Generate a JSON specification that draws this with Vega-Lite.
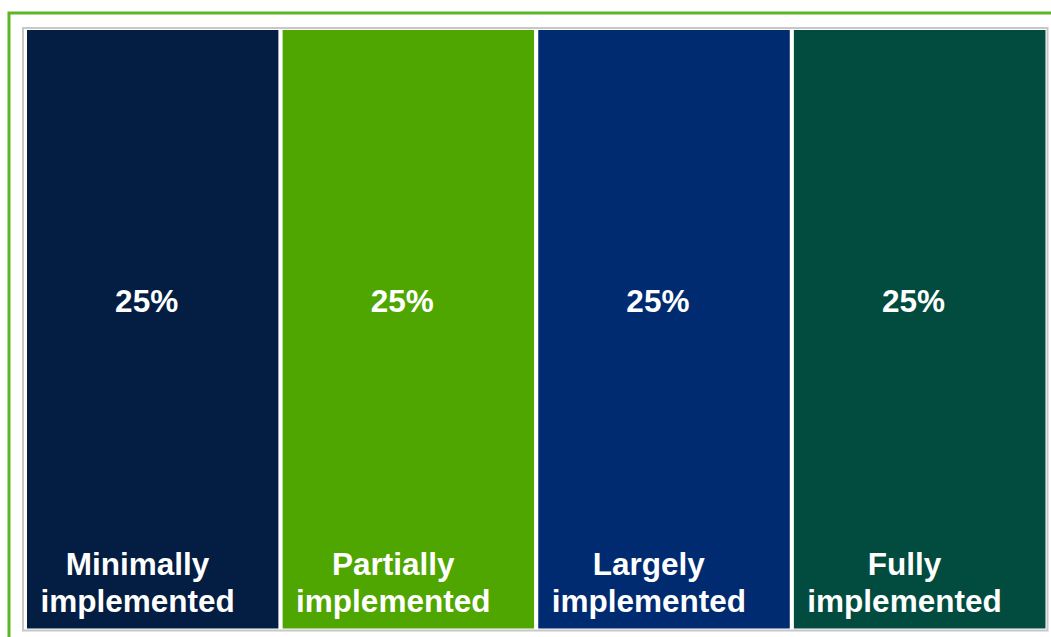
{
  "$schema": "https://vega.github.io/schema/vega-lite/v6.json",
  "width": 1024.5,
  "height": 602.5,
  "autosize": {"type": "none"},
  "padding": {"left": 23, "top": 28, "right": 3.5, "bottom": 6},
  "background": "white",
  "config": {"view": {"stroke": null}},
  "data": {
    "values": [
      {"category": "Minimally implemented", "share": 0.25, "order": 1, "label": ["Minimally", "implemented"]},
      {"category": "Partially implemented", "share": 0.25, "order": 2, "label": ["Partially", "implemented"]},
      {"category": "Largely implemented", "share": 0.25, "order": 3, "label": ["Largely", "implemented"]},
      {"category": "Fully implemented", "share": 0.25, "order": 4, "label": ["Fully", "implemented"]}
    ]
  },
  "layer": [
    {
      "data": {"values": [{"frame": "outer"}]},
      "mark": {"type": "rect", "filled": false, "stroke": "#5fb526", "strokeWidth": 3},
      "encoding": {
        "x": {"datum": -0.01565, "type": "quantitative", "scale": {"domain": [-0.001956, 1], "nice": false, "zero": false}, "axis": null},
        "x2": {"datum": 1.06},
        "y": {"datum": 102.49, "type": "quantitative", "scale": {"domain": [0, 100], "nice": false, "zero": false}, "axis": null},
        "y2": {"datum": -5}
      }
    },
    {
      "transform": [{"stack": "share", "groupby": [], "sort": [{"field": "order"}], "as": ["x0", "x1"]}],
      "mark": {"type": "bar", "stroke": "white", "strokeWidth": 4},
      "encoding": {
        "x": {"field": "x0", "type": "quantitative", "scale": {"domain": [-0.001956, 1], "nice": false, "zero": false}, "axis": null},
        "x2": {"field": "x1"},
        "y": {"datum": 0, "type": "quantitative", "scale": {"domain": [0, 100], "nice": false, "zero": false}, "axis": null},
        "y2": {"datum": 100},
        "color": {
          "field": "category",
          "type": "nominal",
          "scale": {
            "domain": ["Minimally implemented", "Partially implemented", "Largely implemented", "Fully implemented"],
            "range": ["#031e42", "#4fa600", "#002b70", "#014c3e"]
          },
          "legend": null
        }
      }
    },
    {
      "data": {"values": [{"frame": "inner"}]},
      "mark": {"type": "rect", "filled": false, "stroke": "#c8c8c8", "strokeWidth": 2},
      "encoding": {
        "x": {"datum": -0.001956, "type": "quantitative", "scale": {"domain": [-0.001956, 1], "nice": false, "zero": false}, "axis": null},
        "x2": {"datum": 1},
        "y": {"datum": 0, "type": "quantitative", "scale": {"domain": [0, 100], "nice": false, "zero": false}, "axis": null},
        "y2": {"datum": 100}
      }
    },
    {
      "transform": [{"stack": "share", "groupby": [], "sort": [{"field": "order"}], "as": ["x0", "x1"]}],
      "mark": {"type": "text", "align": "center", "baseline": "alphabetic", "dx": -134, "font": "Liberation Sans", "fontWeight": "bold", "fontSize": 31.5, "color": "white"},
      "encoding": {
        "x": {"field": "x1", "type": "quantitative", "scale": {"domain": [-0.001956, 1], "nice": false, "zero": false}, "axis": null},
        "y": {"datum": 52.86, "type": "quantitative", "scale": {"domain": [0, 100], "nice": false, "zero": false}, "axis": null},
        "text": {"field": "share", "type": "quantitative", "format": ".0%"}
      }
    },
    {
      "transform": [{"stack": "share", "groupby": [], "sort": [{"field": "order"}], "as": ["x0", "x1"]}],
      "mark": {"type": "text", "align": "center", "baseline": "alphabetic", "dx": -143, "lineHeight": 36.5, "font": "Liberation Sans", "fontWeight": "bold", "fontSize": 31.5, "color": "white"},
      "encoding": {
        "x": {"field": "x1", "type": "quantitative", "scale": {"domain": [-0.001956, 1], "nice": false, "zero": false}, "axis": null},
        "y": {"datum": 9.21, "type": "quantitative", "scale": {"domain": [0, 100], "nice": false, "zero": false}, "axis": null},
        "text": {"field": "label"}
      }
    }
  ]
}
